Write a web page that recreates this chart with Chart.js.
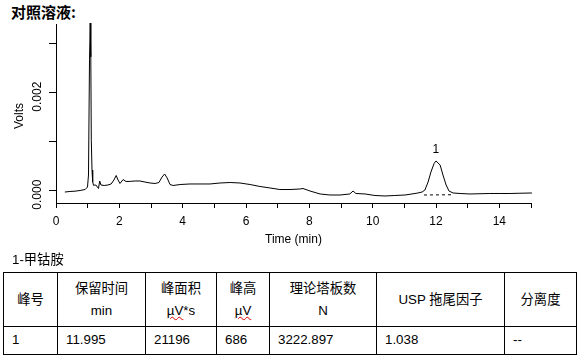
<!DOCTYPE html>
<html>
<head>
<meta charset="utf-8">
<script src="https://cdn.jsdelivr.net/npm/chart.js@4.4.1/dist/chart.umd.min.js"></script>
<style>
  body { margin: 0; background: #fff; width: 587px; height: 363px; position: relative; overflow: hidden;
         font-family: "Liberation Sans", "Noto Sans CJK SC", sans-serif; color: #000; }
  #title { position: absolute; left: 11px; top: 1px; font-size: 15px; font-weight: bold; font-family: "Noto Sans CJK SC"; }
  #wrap { position: absolute; left: 0; top: 0; width: 587px; height: 250px; }
  #cmpd { position: absolute; left: 12px; top: 249px; font-size: 13.3px; }
  table { position: absolute; left: 3px; top: 272px; border-collapse: collapse; table-layout: fixed; width: 573px; font-size: 13.3px; }
  th, td { border: 1px solid #000; padding: 0; font-weight: normal; }
  th { height: 53px; text-align: center; line-height: 22px; vertical-align: middle; }
  td { height: 25px; text-align: left; padding-left: 8px; padding-bottom: 2px; }
  .sp { text-decoration: underline wavy #d00; text-decoration-thickness: 1px; }
</style>
</head>
<body>
<div id="title">对照溶液:</div>
<div id="wrap"><canvas id="myChart" width="587" height="250"></canvas></div>
<div id="cmpd">1-甲钴胺</div>
<table>
  <colgroup>
    <col style="width:54px"><col style="width:88px"><col style="width:71px"><col style="width:53px">
    <col style="width:107px"><col style="width:128px"><col style="width:72px">
  </colgroup>
  <tr>
    <th>峰号</th>
    <th>保留时间<br>min</th>
    <th>峰面积<br><span class="sp">µV</span>*s</th>
    <th>峰高<br><span class="sp">µV</span></th>
    <th>理论塔板数<br>N</th>
    <th>USP 拖尾因子</th>
    <th>分离度</th>
  </tr>
  <tr>
    <td>1</td><td>11.995</td><td>21196</td><td>686</td><td>3222.897</td><td>1.038</td><td>--</td>
  </tr>
</table>
<script>
// chromatogram trace (min, V)
const times = [0.28, 0.44, 0.60, 0.76, 0.92, 0.995, 1.026, 1.058, 1.080, 1.099, 1.115, 1.137, 1.159, 1.184,
  1.26, 1.342, 1.380, 1.421, 1.52, 1.64, 1.74, 1.83, 1.90, 1.96, 2.02, 2.12, 2.21, 2.34, 2.50, 2.65, 2.81,
  2.97, 3.13, 3.25, 3.35, 3.43, 3.51, 3.60, 3.70, 3.92, 4.23, 4.55, 4.86, 5.18, 5.50, 5.81, 6.13, 6.44,
  6.76, 7.07, 7.39, 7.71, 7.80, 8.02, 8.34, 8.65, 8.97, 9.28, 9.38, 9.47, 9.76, 10.07, 10.39, 10.70,
  11.02, 11.24, 11.43, 11.56, 11.65, 11.75, 11.84, 11.94, 12.00, 12.13, 12.22, 12.32, 12.41, 12.54,
  12.76, 13.07, 13.39, 13.70, 14.02, 14.34, 14.65, 15.03];
const volts = [-0.000027, -0.000016, -0.000010, 0.000004, 0.000024, 0.000075, 0.00032, 0.00267, 0.00342,
  0.00273, 0.00103, 0.00042, 0.00018, 0.00011,
  0.000116, 0.000045, 0.000198, 0.000116, 0.000106, 0.000116, 0.000137, 0.000218, 0.00031, 0.000218,
  0.000147, 0.000228, 0.000188, 0.00019, 0.000198, 0.000198, 0.000177,
  0.000157, 0.000147, 0.000167, 0.000279, 0.000341, 0.00026, 0.000126, 0.000106, 0.000126, 0.000137,
  0.000137, 0.000137, 0.000157, 0.000167, 0.000157, 0.000126, 0.000086,
  0.000055, 0.000024, 0.000024, 0.000035, 0.000045, -0.000006, -0.000067, -0.000088, -0.000088,
  -0.000067, -0.000006, -0.000057, -0.000067, -0.000098, -0.000108, -0.000098,
  -0.000088, -0.000067, -0.000047, -0.000027, 0.000014, 0.000177, 0.000381, 0.000555, 0.000606,
  0.000524, 0.00032, 0.000116, -0.000006, -0.000047,
  -0.000057, -0.000067, -0.000062, -0.000057, -0.000057, -0.000057, -0.000052, -0.000047];

// integration baseline under peak 1
const baseTimes = [11.62, 12.56];
const baseVolts = [-0.000088, -0.000082];

const peakNames = ["1"];
const peakTimes = [11.995];

const xTicks = [0, 1, 2, 3, 4, 5, 6, 7, 8, 9, 10, 11, 12, 13, 14, 15];
const yTicks = [0, 0.001, 0.002, 0.003];
const yTickLabels = ["0.000", "", "0.002", ""];

const FONT = "Liberation Sans";

const annotPlugin = {
  id: "annot",
  afterDraw(chart) {
    const ctx = chart.ctx;
    const x = chart.scales.x;
    const y = chart.scales.y;
    ctx.save();
    ctx.fillStyle = "#000";
    ctx.font = "12px '" + FONT + "'";
    ctx.textAlign = "center";
    ctx.textBaseline = "middle";

    // rotated y tick labels
    yTicks.forEach((v, i) => {
      if (!yTickLabels[i]) return;
      const py = y.getPixelForValue(v);
      ctx.save();
      ctx.translate(37.5, py + 4);
      ctx.rotate(-Math.PI / 2);
      ctx.fillText(yTickLabels[i], 0, 0);
      ctx.restore();
    });

    // y title
    ctx.save();
    ctx.translate(19.5, 116);
    ctx.rotate(-Math.PI / 2);
    ctx.fillText("Volts", 0, 0);
    ctx.restore();

    // peak names
    peakTimes.forEach((t, i) => {
      let top = -Infinity;
      times.forEach((tt, j) => {
        if (Math.abs(tt - t) < 0.2 && volts[j] > top) top = volts[j];
      });
      ctx.fillText(peakNames[i], x.getPixelForValue(t), y.getPixelForValue(top) - 11);
    });
    ctx.restore();
  },
};

const ctx = document.getElementById("myChart").getContext("2d");

new Chart(ctx, {
  type: "line",
  data: {
    datasets: [
      {
        label: "trace",
        data: times.map((t, i) => ({ x: t, y: volts[i] })),
        borderColor: "#000",
        borderWidth: 1,
        pointRadius: 0,
        tension: 0,
        clip: false,
      },
      {
        label: "baseline",
        data: baseTimes.map((t, i) => ({ x: t, y: baseVolts[i] })),
        borderColor: "#000",
        borderWidth: 1,
        borderDash: [3, 3],
        pointRadius: 0,
      },
    ],
  },
  options: {
    responsive: false,
    animation: false,
    layout: { padding: { left: 0, right: 56, top: 24, bottom: 0 } },
    plugins: { legend: { display: false }, tooltip: { enabled: false } },
    scales: {
      x: {
        type: "linear",
        min: 0,
        max: 15,
        afterBuildTicks: (s) => { s.ticks = xTicks.map((v) => ({ value: v })); },
        afterFit: (s) => { s.height = 47; },
        grid: { drawOnChartArea: false, color: "#000", tickLength: 5 },
        border: { color: "#000", width: 1 },
        ticks: {
          color: "#000",
          font: { family: FONT, size: 12 },
          padding: 6,
          maxRotation: 0,
          autoSkip: false,
          callback: (v) => (v % 2 === 0 ? String(v) : ""),
        },
        title: {
          display: true,
          text: "Time (min)",
          color: "#000",
          font: { family: FONT, size: 12 },
          padding: { top: 0, bottom: 3 },
        },
      },
      y: {
        type: "linear",
        min: -0.000251,
        max: 0.0034,
        afterBuildTicks: (s) => { s.ticks = yTicks.map((v) => ({ value: v })); },
        afterFit: (s) => { s.width = 56; },
        grid: { drawOnChartArea: false, color: "#000", tickLength: 7 },
        border: { color: "#000", width: 1 },
        ticks: { display: false },
      },
    },
  },
  plugins: [annotPlugin],
});
</script>
</body>
</html>
